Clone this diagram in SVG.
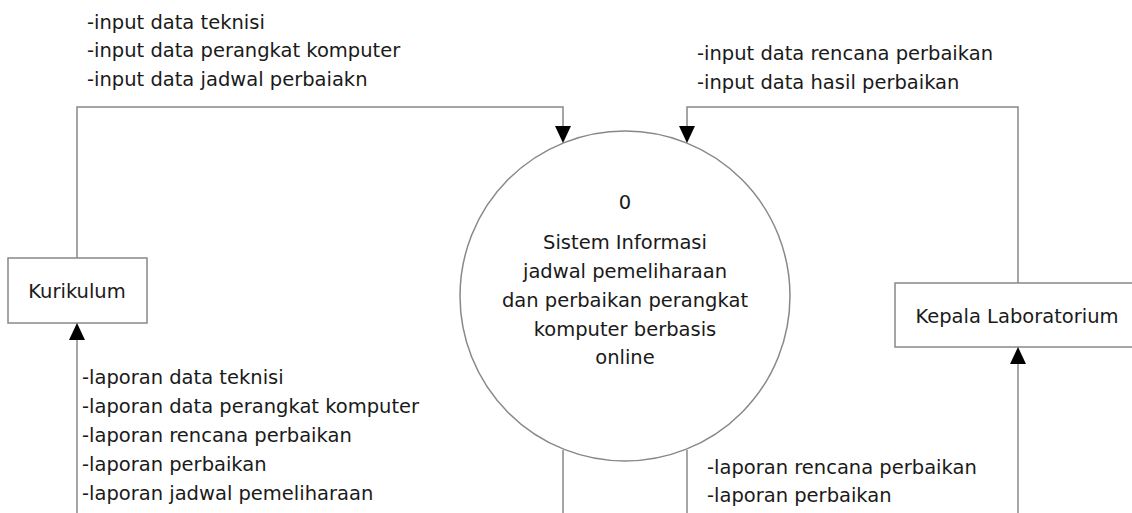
<svg xmlns="http://www.w3.org/2000/svg" width="1132" height="513" viewBox="0 0 1132 513">
<style>
text{font-family:"DejaVu Sans",sans-serif;font-size:19.5px;fill:#1a1a1a}
.c{text-anchor:middle}
.ln{fill:none;stroke:#888;stroke-width:1.5}
.bx{fill:#fff;stroke:#888;stroke-width:1.5}
.ah{fill:#000}
</style>
<rect width="1132" height="513" fill="#fff"/>
<g id="process0">
<circle class="bx" cx="625" cy="296" r="165"/>
<text class="c" x="625" y="209">0</text>
<text class="c" x="625" y="249">Sistem Informasi</text>
<text class="c" x="625" y="278">jadwal pemeliharaan</text>
<text class="c" x="625" y="307">dan perbaikan perangkat</text>
<text class="c" x="625" y="336">komputer berbasis</text>
<text class="c" x="625" y="364">online</text>
</g>
<g id="kurikulum">
<rect class="bx" x="8" y="258" width="139" height="65"/>
<text class="c" x="77" y="298">Kurikulum</text>
</g>
<g id="kepala">
<rect class="bx" x="895" y="283" width="260" height="64"/>
<text class="c" x="1017" y="323">Kepala Laboratorium</text>
</g>
<g id="connectors">
<polyline class="ln" points="77,258 77,107 563,107 563,128"/>
<polygon class="ah" points="555,126 571,126 563,143"/>
<polyline class="ln" points="1018,283 1018,107 687,107 687,128"/>
<polygon class="ah" points="679,126 695,126 687,143"/>
<line class="ln" x1="77" y1="513" x2="77" y2="338"/>
<polygon class="ah" points="77,323 85,340 69,340"/>
<line class="ln" x1="563" y1="450" x2="563" y2="513"/>
<line class="ln" x1="687" y1="450" x2="687" y2="513"/>
<line class="ln" x1="1018" y1="513" x2="1018" y2="362"/>
<polygon class="ah" points="1018,347 1026,364 1010,364"/>
<text x="87" y="29">-input data teknisi</text>
<text x="87" y="57">-input data perangkat komputer</text>
<text x="87" y="86">-input data jadwal perbaiakn</text>
<text x="697" y="60">-input data rencana perbaikan</text>
<text x="697" y="89">-input data hasil perbaikan</text>
<text x="82" y="384">-laporan data teknisi</text>
<text x="82" y="413">-laporan data perangkat komputer</text>
<text x="82" y="442">-laporan rencana perbaikan</text>
<text x="82" y="471">-laporan perbaikan</text>
<text x="82" y="500">-laporan jadwal pemeliharaan</text>
<text x="707" y="474">-laporan rencana perbaikan</text>
<text x="707" y="502">-laporan perbaikan</text>
</g>
</svg>
